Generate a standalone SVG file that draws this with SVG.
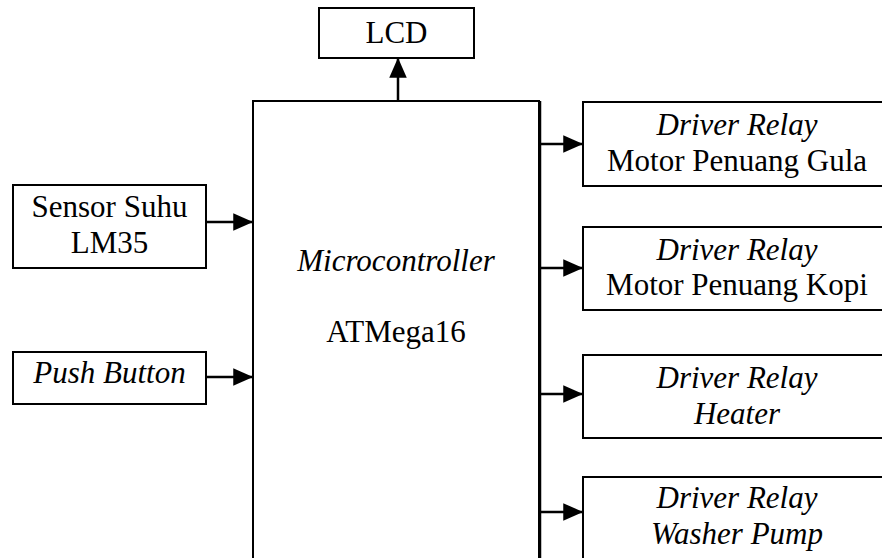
<svg xmlns="http://www.w3.org/2000/svg" width="882" height="558" viewBox="0 0 882 558">
<style>
.box{fill:#fff;stroke:#000;stroke-width:2}
.t{font-family:"Liberation Serif","Times New Roman",serif;font-size:31px;fill:#000;text-anchor:middle}
.i{font-style:italic}
.c{stroke:#000;stroke-width:2.5;fill:none}
</style>
<defs>
<marker id="ah" markerWidth="8" markerHeight="7" refX="7.5" refY="3.5" orient="auto" markerUnits="strokeWidth">
<path d="M0,0 L8,3.5 L0,7 Z" fill="#000"/>
</marker>
</defs>
<rect width="882" height="558" fill="#fff"/>
<g id="lcd"><rect class="box" x="319" y="8" width="155" height="50"/><text class="t" x="396.5" y="43">LCD</text></g>
<g id="mcu"><rect class="box" x="253" y="101" width="286" height="470"/>
<text class="t i" x="396" y="271">Microcontroller</text>
<text class="t" x="396" y="342">ATMega16</text></g>
<g id="sensor"><rect class="box" x="13" y="185" width="193" height="83"/>
<text class="t" x="109.5" y="217">Sensor Suhu</text><text class="t" x="109.5" y="253">LM35</text></g>
<g id="push"><rect class="box" x="13" y="352" width="193" height="52"/>
<text class="t i" x="109.5" y="383">Push Button</text></g>
<g id="gula"><rect class="box" x="583" y="102" width="310" height="84"/>
<text class="t i" x="737" y="135">Driver Relay</text><text class="t" x="737" y="171">Motor Penuang Gula</text></g>
<g id="kopi"><rect class="box" x="583" y="227" width="310" height="83"/>
<text class="t i" x="737" y="260">Driver Relay</text><text class="t" x="737" y="295">Motor Penuang Kopi</text></g>
<g id="heater"><rect class="box" x="583" y="355" width="310" height="83"/>
<text class="t i" x="737" y="388">Driver Relay</text><text class="t i" x="737" y="424">Heater</text></g>
<g id="pump"><rect class="box" x="583" y="477" width="310" height="100"/>
<text class="t i" x="737" y="508">Driver Relay</text><text class="t i" x="737" y="544">Washer Pump</text></g>
<g id="connectors">
<line class="c" x1="398" y1="101" x2="398" y2="59" marker-end="url(#ah)"/>
<line class="c" x1="206" y1="222" x2="252" y2="222" marker-end="url(#ah)"/>
<line class="c" x1="206" y1="377" x2="252" y2="377" marker-end="url(#ah)"/>
<line class="c" x1="540" y1="101" x2="540" y2="560"/>
<line class="c" x1="540" y1="144" x2="582" y2="144" marker-end="url(#ah)"/>
<line class="c" x1="540" y1="268" x2="582" y2="268" marker-end="url(#ah)"/>
<line class="c" x1="540" y1="394" x2="582" y2="394" marker-end="url(#ah)"/>
<line class="c" x1="540" y1="512" x2="582" y2="512" marker-end="url(#ah)"/>
</g>
</svg>
